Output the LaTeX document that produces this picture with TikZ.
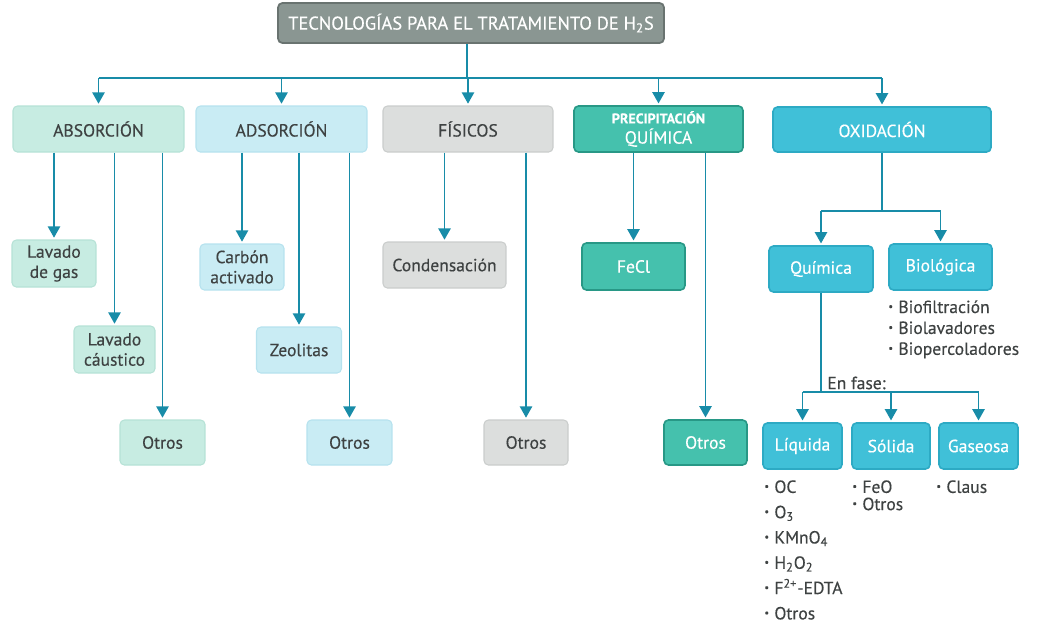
\documentclass[tikz,border=0pt]{standalone}
\usepackage{fontspec}
\setmainfont{PT Sans}[FakeBold=0.35]
\usepackage{graphicx}
\usepackage{tikz}
\usetikzlibrary{arrows.meta,positioning}

\definecolor{linea}{RGB}{24,140,168}
\definecolor{textogris}{RGB}{62,66,66}
\definecolor{titfondo}{RGB}{138,150,146}
\definecolor{titborde}{RGB}{105,115,112}
\definecolor{absfondo}{RGB}{199,236,226}
\definecolor{absborde}{RGB}{182,226,214}
\definecolor{adsfondo}{RGB}{201,236,244}
\definecolor{adsborde}{RGB}{182,226,238}
\definecolor{fisfondo}{RGB}{220,222,221}
\definecolor{fisborde}{RGB}{202,205,204}
\definecolor{prefondo}{RGB}{69,193,173}
\definecolor{preborde}{RGB}{40,152,134}
\definecolor{oxifondo}{RGB}{64,192,216}
\definecolor{oxiborde}{RGB}{45,170,196}

\newcommand{\vineta}{\raisebox{0.35ex}{\scalebox{0.6}{\textbullet}}\hspace{0.3em}}

\begin{document}
\begin{tikzpicture}[x=0.02cm, y=-0.02cm]
	\tikzstyle{Caja}	= [rectangle, rounded corners=2.5pt, line width=0.6pt, align=center, inner sep=1pt, font=\fontsize{10}{11.5}\selectfont]
	\tikzstyle{Titulo}	= [Caja, fill=titfondo, draw=titborde, line width=1pt, text=white, font=\fontsize{10.5}{12}\selectfont]
	\tikzstyle{Absor}	= [Caja, fill=absfondo, draw=absborde, text=textogris]
	\tikzstyle{Adsor}	= [Caja, fill=adsfondo, draw=adsborde, text=textogris]
	\tikzstyle{Fisico}	= [Caja, fill=fisfondo, draw=fisborde, text=textogris]
	\tikzstyle{Precip}	= [Caja, fill=prefondo, draw=preborde, line width=0.9pt, text=white]
	\tikzstyle{Oxid}	= [Caja, fill=oxifondo, draw=oxiborde, line width=0.9pt, text=white]
	\tikzstyle{Linea}	= [linea, line width=1.1pt]
	\tikzstyle{Flecha}	= [Linea, -{Triangle[width=7pt,length=6.5pt]}, shorten >=1pt]
	\tikzstyle{Lista}	= [anchor=north west, inner sep=0pt, align=left, text=textogris]

	\useasboundingbox (0,0) rectangle (1037,626);

	\node (tit) at (471,23) [Titulo, minimum width=7.72cm, minimum height=0.8cm] {TECNOLOGÍAS PARA EL TRATAMIENTO DE H\textsubscript{2}S};

	\node (abs) at (98.5,129) [Absor, minimum width=3.42cm, minimum height=0.92cm] {ABSORCIÓN};
	\node (ads) at (281.5,129) [Adsor, minimum width=3.42cm, minimum height=0.92cm] {ADSORCIÓN};
	\node (fis) at (468,129) [Fisico, minimum width=3.40cm, minimum height=0.92cm] {FÍSICOS};
	\node (pre) at (658.5,129) [Precip, minimum width=3.38cm, minimum height=0.92cm] {{\fontsize{8}{9}\selectfont\bfseries PRECIPITACIÓN}\\QUÍMICA};
	\node (oxi) at (882,129.5) [Oxid, minimum width=4.36cm, minimum height=0.9cm] {OXIDACIÓN};

	\node (lgas) at (54,263.5) [Absor, minimum width=1.68cm, minimum height=0.94cm] {Lavado\\de gas};
	\node (lcau) at (114.5,349.5) [Absor, minimum width=1.62cm, minimum height=0.94cm] {Lavado\\cáustico};
	\node (otr1) at (162.5,442.5) [Absor, minimum width=1.70cm, minimum height=0.9cm] {Otros};

	\node (carb) at (242,267) [Adsor, minimum width=1.68cm, minimum height=0.92cm] {Carbón\\activado};
	\node (zeol) at (299,350) [Adsor, minimum width=1.70cm, minimum height=0.92cm] {Zeolitas};
	\node (otr2) at (349.5,442.5) [Adsor, minimum width=1.70cm, minimum height=0.9cm] {Otros};

	\node (cond) at (444.5,265) [Fisico, minimum width=2.46cm, minimum height=0.92cm] {Condensación};
	\node (otr3) at (526,442.5) [Fisico, minimum width=1.68cm, minimum height=0.9cm] {Otros};

	\node (fecl) at (633.5,266.5) [Precip, minimum width=2.06cm, minimum height=0.94cm] {FeCl};
	\node (otr4) at (705.5,442.5) [Precip, minimum width=1.66cm, minimum height=0.9cm] {Otros};

	\node (qui) at (821,269) [Oxid, minimum width=2.08cm, minimum height=0.92cm] {Química};
	\node (bio) at (940.5,267) [Oxid, minimum width=2.06cm, minimum height=0.92cm] {Biológica};
	\node (liq) at (802.5,446) [Oxid, minimum width=1.58cm, minimum height=0.92cm] {Líquida};
	\node (sol) at (891,446) [Oxid, minimum width=1.56cm, minimum height=0.92cm] {Sólida};
	\node (gas) at (978.5,446) [Oxid, minimum width=1.58cm, minimum height=0.92cm] {Gaseosa};

	\node (lbio) at (888,300) [Lista, font=\fontsize{10}{11.9}\selectfont] {\vineta Biofiltración\\\vineta Biolavadores\\\vineta Biopercoladores};
	\node (lliq) at (764,480) [Lista, font=\fontsize{10}{14.4}\selectfont] {\vineta OC\\\vineta O\textsubscript{3}\\\vineta KMnO\textsubscript{4}\\\vineta H\textsubscript{2}O\textsubscript{2}\\\vineta F\textsuperscript{2+}-EDTA\\\vineta Otros};
	\node (lsol) at (852,480) [Lista, font=\fontsize{10}{9.8}\selectfont] {\vineta FeO\\\vineta Otros};
	\node (lgse) at (936,480) [Lista, font=\fontsize{10}{9.8}\selectfont] {\vineta Claus};
	\node (fase) at (827,383) [anchor=west, inner sep=0pt, text=textogris, font=\fontsize{10}{11}\selectfont] {En fase:};

	\coordinate (bus) at (467,78);
	\coordinate (ramaO) at (882,211);
	\coordinate (ramaQ) at (821,392);

	\draw [Linea] (tit.south -| bus) -- (bus);
	\draw [Linea] (bus -| abs.north) -- (bus -| oxi.north);
	\draw [Flecha] (bus -| abs.north) -- (abs.north);
	\draw [Flecha] (bus -| ads.north) -- (ads.north);
	\draw [Flecha] (bus -| fis.north) -- (fis.north);
	\draw [Flecha] (bus -| pre.north) -- (pre.north);
	\draw [Flecha] (bus -| oxi.north) -- (oxi.north);

	\draw [Flecha] (abs.south -| lgas.north) -- (lgas.north);
	\draw [Flecha] (abs.south -| lcau.north) -- (lcau.north);
	\draw [Flecha] (abs.south -| otr1.north) -- (otr1.north);

	\draw [Flecha] (ads.south -| carb.north) -- (carb.north);
	\draw [Flecha] (ads.south -| zeol.north) -- (zeol.north);
	\draw [Flecha] (ads.south -| otr2.north) -- (otr2.north);

	\draw [Flecha] (fis.south -| cond.north) -- (cond.north);
	\draw [Flecha] (fis.south -| otr3.north) -- (otr3.north);

	\draw [Flecha] (pre.south -| fecl.north) -- (fecl.north);
	\draw [Flecha] (pre.south -| otr4.north) -- (otr4.north);

	\draw [Linea] (oxi.south) -- (ramaO);
	\draw [Linea] (ramaO -| qui.north) -- (ramaO -| bio.north);
	\draw [Flecha] (ramaO -| qui.north) -- (qui.north);
	\draw [Flecha] (ramaO -| bio.north) -- (bio.north);

	\draw [Linea] (qui.south) -- (ramaQ);
	\draw [Linea] (ramaQ -| liq.north) -- (ramaQ -| gas.north);
	\draw [Flecha] (ramaQ -| liq.north) -- (liq.north);
	\draw [Flecha] (ramaQ -| sol.north) -- (sol.north);
	\draw [Flecha] (ramaQ -| gas.north) -- (gas.north);
\end{tikzpicture}
\end{document}
